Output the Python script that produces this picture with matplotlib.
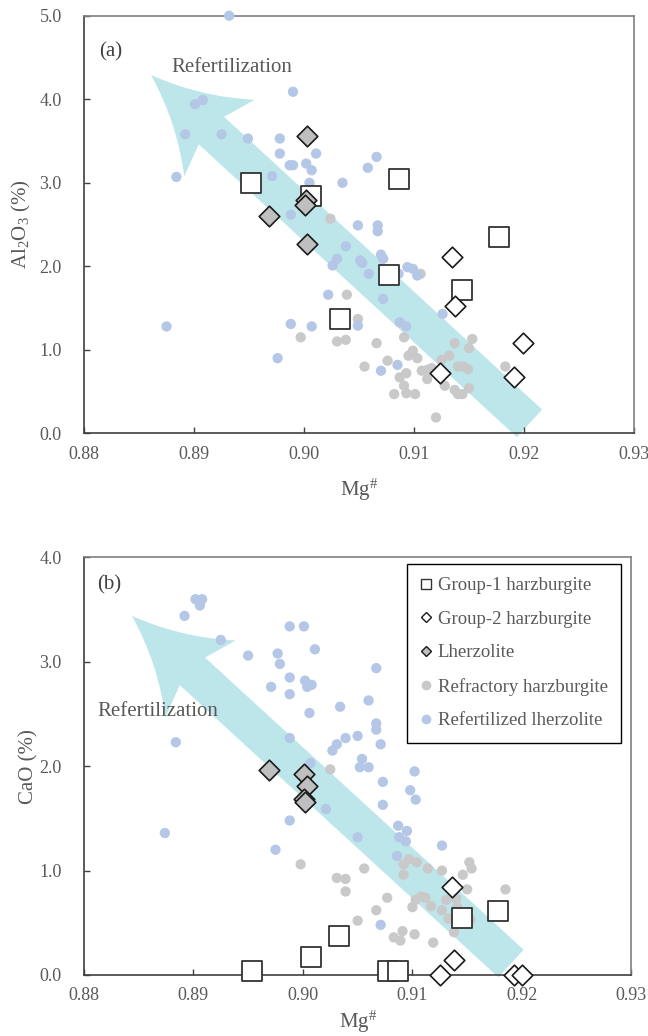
import numpy as np
import matplotlib
matplotlib.use("Agg")
import matplotlib.pyplot as plt
from matplotlib.path import Path
from matplotlib.patches import PathPatch
from matplotlib.lines import Line2D

plt.rcParams["font.family"] = "serif"
plt.rcParams["font.serif"] = ["Liberation Serif", "DejaVu Serif"]
plt.rcParams["mathtext.fontset"] = "custom"
plt.rcParams["mathtext.rm"] = "Liberation Serif"
plt.rcParams["mathtext.it"] = "Liberation Serif:italic"

TEXT_GRAY = "#595959"
BLUE = "#B4C7E7"
GRAY = "#C9C9C9"
ARROW_COLOR = "#BDE6EA"

# ---- (a) Al2O3 vs Mg# ----
a_refert_mg = [0.8932, 0.8901, 0.8908, 0.8990, 0.8892, 0.8925, 0.8949, 0.8978,
               0.8978, 0.9011, 0.8987, 0.8990, 0.9002, 0.9007, 0.9066, 0.9058,
               0.9035, 0.8884, 0.8971, 0.9005, 0.8988, 0.9049, 0.9067, 0.9067,
               0.9038, 0.9030, 0.9026, 0.9051, 0.9053, 0.9059, 0.9070, 0.9072,
               0.9086, 0.9094, 0.9099, 0.9103, 0.9022, 0.9072, 0.9126, 0.9049,
               0.9087, 0.9093, 0.8988, 0.9007, 0.8976, 0.9070, 0.9085, 0.8875]
a_refert_al = [5.00, 3.94, 3.99, 4.09, 3.58, 3.58, 3.53, 3.53,
               3.35, 3.35, 3.21, 3.21, 3.23, 3.15, 3.31, 3.18,
               3.00, 3.07, 3.08, 3.00, 2.62, 2.49, 2.49, 2.42,
               2.24, 2.09, 2.01, 2.07, 2.04, 1.91, 2.14, 2.09,
               1.91, 1.99, 1.97, 1.89, 1.66, 1.61, 1.43, 1.29,
               1.33, 1.28, 1.31, 1.28, 0.90, 0.75, 0.82, 1.28]

a_refrac_mg = [0.9024, 0.9106, 0.9039, 0.9049, 0.8997, 0.9030, 0.9038, 0.9066,
               0.9091, 0.9055, 0.9076, 0.9095, 0.9099, 0.9103, 0.9087, 0.9093,
               0.9091, 0.9082, 0.9093, 0.9101, 0.9107, 0.9112, 0.9116, 0.9112,
               0.9128, 0.9125, 0.9132, 0.9137, 0.9153, 0.9150, 0.9140, 0.9145,
               0.9149, 0.9137, 0.9140, 0.9144, 0.9150, 0.9120, 0.9183]
a_refrac_al = [2.57, 1.91, 1.66, 1.37, 1.15, 1.10, 1.12, 1.08,
               1.15, 0.80, 0.87, 0.93, 0.99, 0.90, 0.67, 0.72,
               0.57, 0.47, 0.48, 0.47, 0.75, 0.76, 0.78, 0.65,
               0.57, 0.88, 0.93, 1.08, 1.13, 1.02, 0.80, 0.80,
               0.77, 0.52, 0.47, 0.47, 0.54, 0.19, 0.80]

a_grp1_mg = [0.8952, 0.9006, 0.9086, 0.9177, 0.9077, 0.9144, 0.9033]
a_grp1_al = [3.00, 2.84, 3.04, 2.35, 1.90, 1.72, 1.37]

a_grp2_mg = [0.9135, 0.9137, 0.9199, 0.9124, 0.9191]
a_grp2_al = [2.11, 1.53, 1.08, 0.72, 0.67]

a_lherz_mg = [0.9003, 0.9002, 0.9001, 0.8968, 0.9003]
a_lherz_al = [3.56, 2.79, 2.73, 2.60, 2.27]

# ---- (b) CaO vs Mg# ----
b_refert_mg = [0.8902, 0.8908, 0.8906, 0.8892, 0.8925, 0.8950, 0.8988, 0.9001,
               0.9011, 0.8977, 0.8979, 0.8988, 0.9002, 0.9004, 0.9008, 0.8971,
               0.8988, 0.9067, 0.9060, 0.9034, 0.9006, 0.9067, 0.9067, 0.9071,
               0.9050, 0.9039, 0.9031, 0.9027, 0.8988, 0.8884, 0.9054, 0.9052,
               0.9060, 0.9007, 0.9073, 0.9102, 0.9098, 0.9103, 0.9073, 0.9021,
               0.8988, 0.9087, 0.9095, 0.9088, 0.9094, 0.9050, 0.9127, 0.8975,
               0.9086, 0.9071, 0.8874]
b_refert_ca = [3.60, 3.60, 3.54, 3.44, 3.21, 3.06, 3.34, 3.34,
               3.12, 3.08, 2.98, 2.85, 2.82, 2.76, 2.78, 2.76,
               2.69, 2.94, 2.63, 2.57, 2.51, 2.41, 2.35, 2.21,
               2.29, 2.27, 2.21, 2.15, 2.27, 2.23, 2.07, 1.99,
               1.99, 2.03, 1.85, 1.95, 1.77, 1.68, 1.63, 1.59,
               1.48, 1.43, 1.38, 1.32, 1.28, 1.32, 1.24, 1.20,
               1.14, 0.48, 1.36]

b_refrac_mg = [0.9025, 0.8998, 0.9031, 0.9039, 0.9039, 0.9056, 0.9050, 0.9067,
               0.9077, 0.9083, 0.9089, 0.9091, 0.9102, 0.9119, 0.9100, 0.9103,
               0.9108, 0.9112, 0.9117, 0.9127, 0.9092, 0.9097, 0.9104, 0.9092,
               0.9114, 0.9127, 0.9131, 0.9140, 0.9133, 0.9138, 0.9146, 0.9152,
               0.9154, 0.9150, 0.9141, 0.9140, 0.9153, 0.9185]
b_refrac_ca = [1.97, 1.06, 0.93, 0.92, 0.80, 1.02, 0.52, 0.62,
               0.74, 0.36, 0.33, 0.42, 0.39, 0.31, 0.65, 0.72,
               0.75, 0.74, 0.66, 0.62, 1.06, 1.11, 1.08, 0.96,
               1.02, 1.00, 0.72, 0.73, 0.54, 0.41, 0.96, 1.08,
               1.02, 0.82, 0.65, 0.63, 0.53, 0.82]

b_grp1_mg = [0.8954, 0.9007, 0.9033, 0.9078, 0.9087, 0.9145, 0.9178]
b_grp1_ca = [0.04, 0.17, 0.37, 0.04, 0.04, 0.55, 0.61]

b_grp2_mg = [0.9136, 0.9138, 0.9125, 0.9193, 0.9200]
b_grp2_ca = [0.84, 0.14, 0.00, 0.00, 0.00]

b_lherz_mg = [0.8969, 0.9001, 0.9004, 0.9001, 0.9002]
b_lherz_ca = [1.96, 1.93, 1.81, 1.69, 1.66]

# arrow tail/tip in data units
a_arrow = ((0.9205, 0.12), (0.8861, 4.29))
b_arrow = ((0.9190, 0.11), (0.8844, 3.44))

LEGEND_LABELS = ["Group-1 harzburgite", "Group-2 harzburgite", "Lherzolite",
                 "Refractory harzburgite", "Refertilized lherzolite"]


def draw_arrow(ax, tail, tip, body=18.7, head_len=93, head_half=52, neck=82, sag=10):
    """Fat block arrow with concave head, built in pixel space."""
    t = ax.transData.transform(tail)
    h = ax.transData.transform(tip)
    length = np.hypot(*(t - h))
    u = (t - h) / length
    n = np.array([-u[1], u[0]])

    def P(a, b):
        return h + a * u + b * n

    side = np.hypot(head_len, head_half)
    ctrl_r = P(head_len / 2 + sag * head_half / side, head_half / 2 - sag * head_len / side)
    ctrl_l = P(head_len / 2 + sag * head_half / side, -head_half / 2 + sag * head_len / side)
    verts = [h, ctrl_r, P(head_len, head_half), P(neck, body), P(length, body),
             P(length, -body), P(neck, -body), P(head_len, -head_half), ctrl_l, h, h]
    codes = [Path.MOVETO, Path.CURVE3, Path.CURVE3, Path.LINETO, Path.LINETO,
             Path.LINETO, Path.LINETO, Path.LINETO, Path.CURVE3, Path.CURVE3,
             Path.CLOSEPOLY]
    verts = ax.transData.inverted().transform(np.array(verts))
    ax.add_patch(PathPatch(Path(verts, codes), facecolor=ARROW_COLOR,
                           edgecolor="none", zorder=1, clip_on=False))


def style_axes(ax, ymax, ylabel, ylabel_x, xlabel_y):
    ax.set_xlim(0.88, 0.93)
    ax.set_ylim(0, ymax)
    ax.set_xticks(np.arange(0.88, 0.9301, 0.01))
    ax.set_yticks(np.arange(0, ymax + 0.01, 1.0))
    ax.xaxis.set_major_formatter(plt.FormatStrFormatter("%.2f"))
    ax.yaxis.set_major_formatter(plt.FormatStrFormatter("%.1f"))
    ax.tick_params(axis="both", direction="in", length=4, width=1, color="#404040",
                   labelcolor=TEXT_GRAY, labelsize=13)
    ax.tick_params(axis="x", pad=9)
    ax.tick_params(axis="y", pad=16)
    for s in ["left", "bottom"]:
        ax.spines[s].set_color("#404040")
        ax.spines[s].set_linewidth(1.2)
    for s in ["top", "right"]:
        ax.spines[s].set_color("#808080")
        ax.spines[s].set_linewidth(1.2)
    ax.set_xlabel(r"$\mathregular{Mg^{\#}}$", fontsize=15, color=TEXT_GRAY)
    ax.set_ylabel(ylabel, fontsize=15, color=TEXT_GRAY)
    ax.xaxis.set_label_coords(0.5, xlabel_y)
    ax.yaxis.set_label_coords(ylabel_x, 0.5)


def plot_groups(ax, refert, refrac, grp1, grp2, lherz):
    kw = dict(clip_on=False)
    ax.scatter(*refrac, s=55, color=GRAY, edgecolors="none", zorder=2, **kw)
    ax.scatter(*refert, s=55, color=BLUE, edgecolors="none", zorder=3, **kw)
    ax.scatter(*grp1, s=190, marker="s", facecolors="white", edgecolors="#333333",
               linewidths=1.3, zorder=4, **kw)
    ax.scatter(*grp2, s=110, marker="D", facecolors="white", edgecolors="#1a1a1a",
               linewidths=1.2, zorder=4, **kw)
    ax.scatter(*lherz, s=110, marker="D", facecolors="#BFBFBF", edgecolors="#1a1a1a",
               linewidths=1.2, zorder=5, **kw)


fig = plt.figure(figsize=(6.48, 10.36), dpi=100)
ax1 = fig.add_axes([0.1296, 0.5817, 0.8488, 0.4031])
ax2 = fig.add_axes([0.1293, 0.0589, 0.8452, 0.4030])

style_axes(ax1, 5.0, r"$\mathregular{Al_2O_3}$ (%)", -0.092, -0.105)
style_axes(ax2, 4.0, "CaO (%)", -0.082, -0.082)

draw_arrow(ax1, *a_arrow)
draw_arrow(ax2, *b_arrow)

plot_groups(ax1, (a_refert_mg, a_refert_al), (a_refrac_mg, a_refrac_al),
            (a_grp1_mg, a_grp1_al), (a_grp2_mg, a_grp2_al), (a_lherz_mg, a_lherz_al))
plot_groups(ax2, (b_refert_mg, b_refert_ca), (b_refrac_mg, b_refrac_ca),
            (b_grp1_mg, b_grp1_ca), (b_grp2_mg, b_grp2_ca), (b_lherz_mg, b_lherz_ca))

ax1.text(0.049, 0.913, "(a)", transform=ax1.transAxes, fontsize=15, color="#404040",
         ha="center", va="center")
ax2.text(0.046, 0.934, "(b)", transform=ax2.transAxes, fontsize=15, color="#404040",
         ha="center", va="center")
ax1.text(0.269, 0.875, "Refertilization", transform=ax1.transAxes, fontsize=15,
         color=TEXT_GRAY, ha="center", va="center")
ax2.text(0.1346, 0.632, "Refertilization", transform=ax2.transAxes, fontsize=15,
         color=TEXT_GRAY, ha="center", va="center")

handles = [
    Line2D([], [], ls="none", marker="s", ms=7, mfc="white", mec="#333333", mew=1),
    Line2D([], [], ls="none", marker="D", ms=5.5, mfc="white", mec="#1a1a1a", mew=1),
    Line2D([], [], ls="none", marker="D", ms=5.5, mfc="#BFBFBF", mec="#1a1a1a", mew=1),
    Line2D([], [], ls="none", marker="o", ms=7, mfc=GRAY, mec="none"),
    Line2D([], [], ls="none", marker="o", ms=7, mfc=BLUE, mec="none"),
]
leg = ax2.legend(handles, LEGEND_LABELS, loc="upper right", bbox_to_anchor=(0.9808, 0.9844),
                 borderaxespad=0, fontsize=13.5, labelspacing=0.88, handlelength=0.6,
                 handletextpad=0.35, borderpad=0.7, fancybox=False, framealpha=1,
                 edgecolor="black")
leg.get_frame().set_linewidth(1.0)
for txt in leg.get_texts():
    txt.set_color(TEXT_GRAY)

fig.savefig("out.png", dpi=100)
